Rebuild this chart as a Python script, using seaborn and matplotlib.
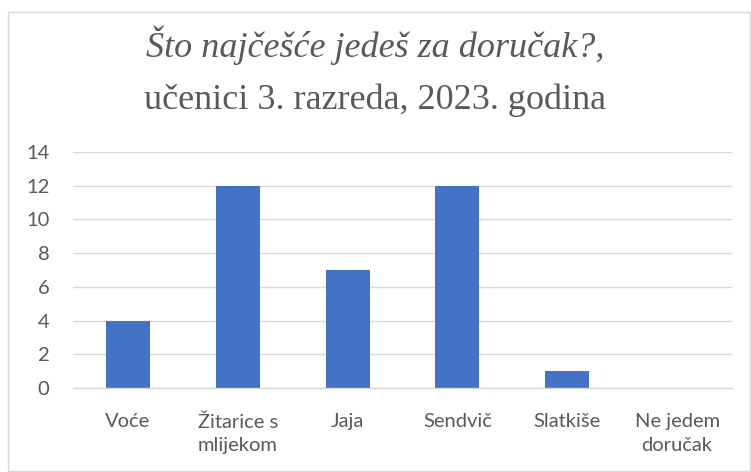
import matplotlib
matplotlib.use("Agg")
import matplotlib.pyplot as plt
import seaborn as sns
import pandas as pd
from matplotlib.patches import Rectangle

categories = ["Voće", "Žitarice s\nmlijekom", "Jaja", "Sendvič", "Slatkiše", "Ne jedem\ndoručak"]
values = [4, 12, 7, 12, 1, 0]
yticks = [0, 2, 4, 6, 8, 10, 12, 14]

sns.set_theme(style="white")
plt.rcParams['font.family'] = ['Lato', 'DejaVu Sans']

df = pd.DataFrame({"cat": categories, "val": values})

fig = plt.figure(figsize=(7.51, 4.72), dpi=100)
ax = fig.add_axes([73/751, 1-388/472, (732-73)/751, (388-152)/472])

sns.barplot(data=df, x="cat", y="val", color="#4472C4", saturation=1, width=0.4,
            linewidth=0, ax=ax)

ax.set_ylim(0, 14)
ax.set_xlim(-0.5, len(categories)-0.5)
ax.set_yticks(yticks)
ax.set_yticklabels([str(t) for t in yticks])
ax.yaxis.grid(True, color="#D9D9D9", linewidth=1)
ax.set_axisbelow(True)
for s in ["top", "right", "left"]:
    ax.spines[s].set_visible(False)
ax.spines["bottom"].set_color("#D9D9D9")
ax.spines["bottom"].set_linewidth(1)
ax.tick_params(axis="both", length=0, labelsize=14.5, colors="#595959")
ax.tick_params(axis="y", pad=17)
ax.tick_params(axis="x", pad=18)
for lbl in ax.get_xticklabels():
    lbl.set_linespacing(1.5)
ax.set_xlabel("")
ax.set_ylabel("")

fig.text(0.5, 1-45/472, "Što najčešće jedeš za doručak?,", ha="center", va="center",
         family="Liberation Serif", style="italic", fontsize=26, color="#595959")
fig.text(0.5, 1-100/472, "učenici 3. razreda, 2023. godina", ha="center", va="center",
         family="Liberation Serif", fontsize=26, color="#595959")

fig.patches.append(Rectangle((8/751, 1/472), (750-8)/751, (471-12)/472, transform=fig.transFigure,
                             fill=False, edgecolor="#D9D9D9", linewidth=1))

fig.savefig("out.png", dpi=100)
